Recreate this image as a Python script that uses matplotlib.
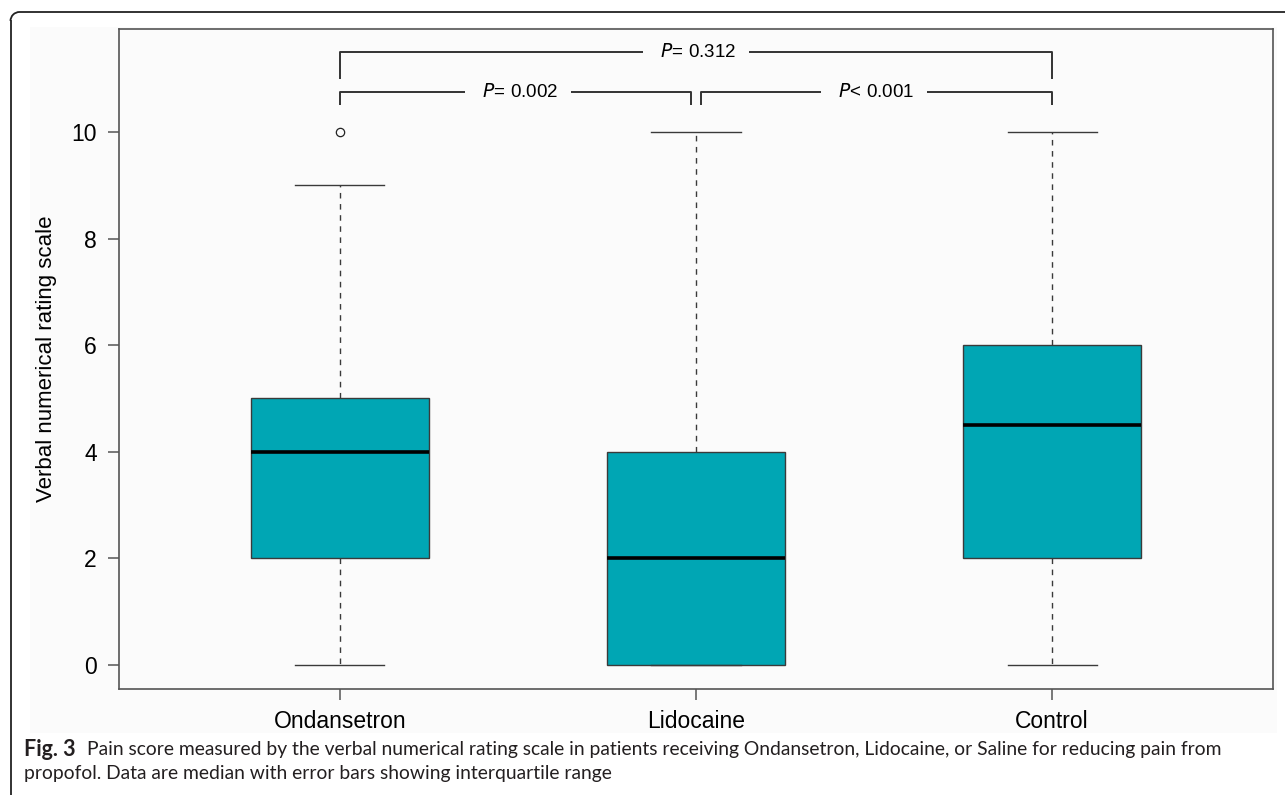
import matplotlib
matplotlib.use("Agg")
import matplotlib.pyplot as plt
from matplotlib.patches import Rectangle, Arc
from matplotlib.lines import Line2D

# Groups and five-number summaries of the pain scores
groups = ["Ondansetron", "Lidocaine", "Control"]
whisker_low = [0, 0, 0]
q1 = [2, 0, 2]
median = [4, 2, 4.5]
q3 = [5, 4, 6]
whisker_high = [9, 10, 10]
outliers = [[10], [], []]

# Pairwise comparisons: (group a, group b, p value, relation, bracket level)
comparisons = [
    (1, 2, "0.002", "=", 0),
    (2, 3, "0.001", "<", 0),
    (1, 3, "0.312", "=", 1),
]

y_ticks = [0, 2, 4, 6, 8, 10]
y_label = "Verbal numerical rating scale"
caption_bold = "Fig. 3"
caption_line1 = ("Pain score measured by the verbal numerical rating scale in patients receiving "
                 "Ondansetron, Lidocaine, or Saline for reducing pain from")
caption_line2 = "propofol. Data are median with error bars showing interquartile range"

W, H = 1285, 795
plt.rcParams["font.family"] = ["Liberation Sans", "DejaVu Sans"]
fig = plt.figure(figsize=(W / 100, H / 100), dpi=100)
fig.patch.set_facecolor("white")

panel_bg = "#fbfbfb"
# light panel behind the chart
fig.patches.append(Rectangle((30 / W, 1 - 733 / H), (1277 - 30) / W, (733 - 27) / H,
                             transform=fig.transFigure, facecolor=panel_bg,
                             edgecolor="none", zorder=0))

# outer frame: top and left edges joined by a rounded corner
r = 9
fx, fy = 10.5, 12
frame_kw = dict(color="#222222", linewidth=1.3, transform=fig.transFigure, zorder=1)
fig.add_artist(Line2D([(fx + r) / W, 1.01], [1 - fy / H, 1 - fy / H], **frame_kw))
fig.add_artist(Line2D([fx / W, fx / W], [1 - (fy + r) / H, -0.01], **frame_kw))
fig.add_artist(Arc(((fx + r) / W, 1 - (fy + r) / H), 2 * r / W, 2 * r / H,
                   theta1=90, theta2=180, edgecolor="#222222", linewidth=1.3,
                   transform=fig.transFigure, zorder=1))

ax = fig.add_axes([119 / W, 1 - 689 / H, (1273 - 119) / W, (689 - 29) / H])
ax.set_facecolor(panel_bg)
ax.set_zorder(2)

stats = []
for i, g in enumerate(groups):
    stats.append(dict(label=g, whislo=whisker_low[i], q1=q1[i], med=median[i],
                      q3=q3[i], whishi=whisker_high[i], fliers=outliers[i]))

edge = "#3a3a3a"
ax.bxp(stats, positions=[1, 2, 3], widths=0.5, patch_artist=True,
       boxprops=dict(facecolor="#00a6b4", edgecolor=edge, linewidth=1.0),
       medianprops=dict(color="black", linewidth=2.6, solid_capstyle="butt"),
       whiskerprops=dict(color=edge, linewidth=1.0, linestyle=(0, (4, 4))),
       capprops=dict(color=edge, linewidth=1.0),
       capwidths=0.25,
       flierprops=dict(marker="o", markersize=6, markerfacecolor="none",
                       markeredgecolor="#222222", markeredgewidth=0.9))

ax.set_xlim(0.38, 3.62)
ax.set_ylim(-0.45, 11.93)
ax.set_yticks(y_ticks)
ax.set_xticks([1, 2, 3])
ax.set_xticklabels(groups)
for s in ax.spines.values():
    s.set_color("#555555")
    s.set_linewidth(1.2)
ax.tick_params(axis="both", colors="#555555", labelcolor="black", labelsize=16.5,
               length=8, width=1.1)
ax.tick_params(axis="x", pad=7)
ax.tick_params(axis="y", pad=8)
ax.set_ylabel(y_label, fontsize=16, labelpad=10)

# significance brackets with the p value set into a gap in the bar
levels = {0: (10.75, 10.5), 1: (11.5, 11.0)}
inset = 0.015
for a, b, val, op, lev in comparisons:
    top, foot = levels[lev]
    xa = a + (inset if (a == 2 and lev == 0) else 0)
    xb = b - (inset if (b == 2 and lev == 0) else 0)
    ax.plot([xa, xa, xb, xb], [foot, top, top, foot], color="#333333",
            linewidth=1.4, solid_capstyle="butt", zorder=3, clip_on=False)
    ax.text((a + b) / 2, top, "   " + r"$\mathit{P}$" + f"{op} {val}   ",
            ha="center", va="center", fontsize=13.5, zorder=4,
            bbox=dict(facecolor=panel_bg, edgecolor="none", boxstyle="square,pad=0.1"))

cap_color = "#231f20"
cap_font = ["Lato", "DejaVu Sans"]
fig.text(24 / W, 1 - 750 / H, caption_bold, fontsize=15.5, fontweight="bold",
         family=cap_font, color=cap_color, va="center", ha="left")
fig.text(87 / W, 1 - 750 / H, caption_line1, fontsize=13.9,
         family=cap_font, color=cap_color, va="center", ha="left")
fig.text(24 / W, 1 - 773 / H, caption_line2, fontsize=13.9,
         family=cap_font, color=cap_color, va="center", ha="left")

fig.savefig("out.png", dpi=100, facecolor="white")
